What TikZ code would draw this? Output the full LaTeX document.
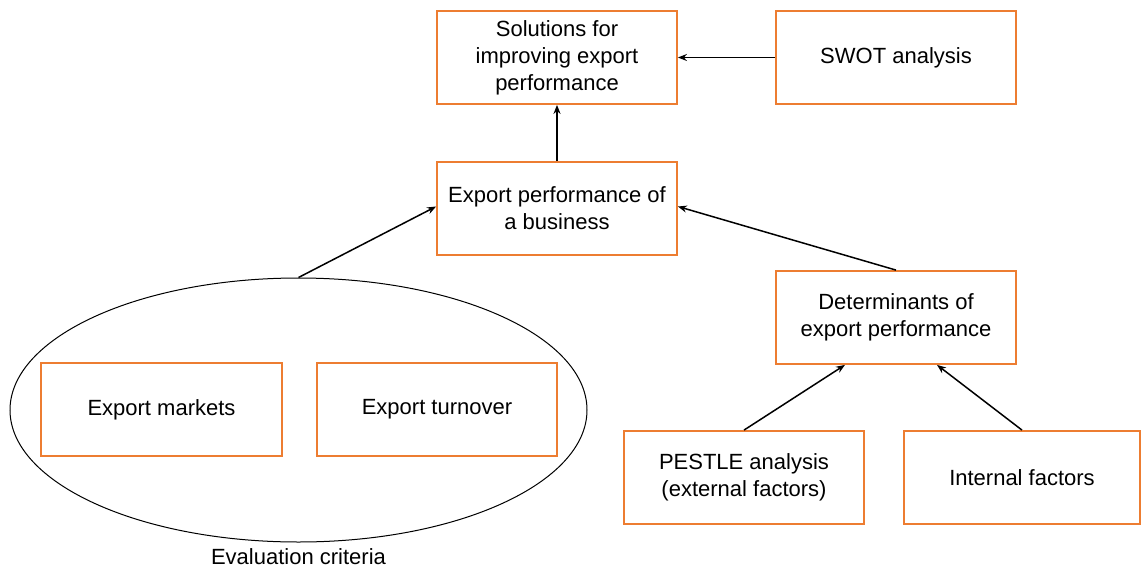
\documentclass[tikz,border=0pt]{standalone}
\usepackage{fontspec}
\setmainfont{Liberation Sans}
\usetikzlibrary{shapes.geometric,arrows.meta}
\definecolor{boxorange}{RGB}{237,125,49}
\begin{document}
\begin{tikzpicture}[x=1pt,y=-1pt,
  box/.style={draw=boxorange,line width=1.8pt,minimum width=240pt,minimum height=93pt,align=center,inner sep=2pt,
    font=\fontsize{22}{27}\selectfont},
  conn/.style={-{Stealth[length=9pt,width=7pt]},line width=1.5pt,black}]
\useasboundingbox (0,0) rectangle (1141,570);
\node[box] (sol) at (557,57.5) {Solutions for\\improving export\\performance};
\node[box] (swot) at (896,57.5) {SWOT analysis};
\node[box] (perf) at (557,208.5) {Export performance of\\a business};
\node[box] (det) at (896,317.5) {Determinants of\\export performance};
\node[box] (pest) at (744,477.5) {PESTLE analysis\\(external factors)};
\node[box,minimum width=236pt] (int) at (1022,477.5) {Internal factors};
\node[draw,ellipse,line width=1pt,minimum width=577pt,minimum height=264pt,inner sep=0pt] (eval) at (298.5,410) {};
\node[box,minimum width=241pt] (mkt) at (161.5,409.5) {Export markets};
\node[box] (turn) at (437,409.5) {Export turnover};
\node[font=\fontsize{22}{27}\selectfont] (evlab) at (298.5,557) {Evaluation criteria};
\draw[conn] (swot.west) -- (sol.east);
\draw[conn] (perf.north) -- (sol.south);
\draw[conn] (eval.north) -- ([yshift=2pt]perf.west);
\draw[conn] (det.north) -- ([yshift=2pt]perf.east);
\draw[conn] (pest.north) -- ([xshift=-51pt]det.south);
\draw[conn] (int.north) -- ([xshift=41pt]det.south);
\end{tikzpicture}
\end{document}
